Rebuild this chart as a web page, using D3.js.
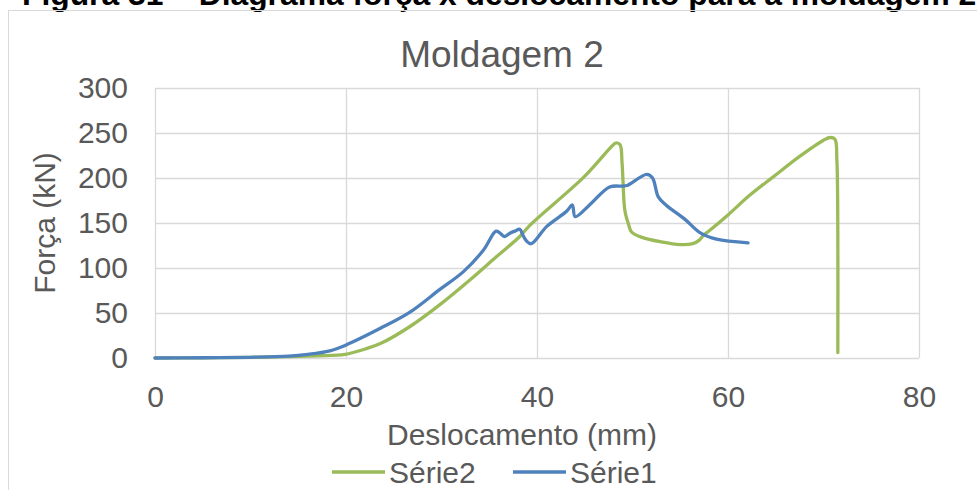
<!DOCTYPE html>
<html>
<head>
<meta charset="utf-8">
<script src="https://cdn.jsdelivr.net/npm/d3@7"></script>
<style>
  body { margin: 0; background: #fff; }
  text { font-family: "Liberation Sans", Arial, sans-serif; }
</style>
</head>
<body>
<div id="chart"></div>
<script>
// data
var xTicks = [0, 20, 40, 60, 80];
var yTicks = [0, 50, 100, 150, 200, 250, 300];

// Série2 (green)
var serie2X = [0, 5, 10, 14, 17, 19.9, 22, 23.6, 26.7, 29.8, 33, 35.8, 38.2, 39.3, 44.9, 48.0, 48.3, 48.7, 48.9, 49.0, 49.2, 49.6, 49.9, 51, 53, 55, 56.3, 57.0, 57.4, 58.1, 60, 62.3, 64.7, 67.5, 70.0, 70.7, 71.2, 71.4, 71.5, 71.5];
var serie2Y = [0, 0.2, 0.7, 1.5, 2.5, 4, 10, 16, 35, 59, 87, 113, 135, 148, 201, 237, 239, 237, 218, 198, 164, 148, 140, 134, 129, 126, 127, 131, 136, 142, 159, 181, 201, 224, 242, 245, 243, 220, 139, 6];

// Série1 (blue)
var serie1X = [0, 5, 10, 14, 16, 18.3, 19.9, 23.6, 26.7, 29.8, 32.3, 34.4, 35.7, 36.1, 36.6, 37.2, 37.7, 38.2, 38.5, 38.9, 39.4, 41, 43.1, 43.7, 44, 45.5, 47.6, 49, 49.5, 51.5, 52.1, 52.7, 53.5, 55.5, 57.1, 58.8, 62.1];
var serie1Y = [0, 0.3, 0.8, 2, 4, 8, 14, 33, 51, 76, 96, 120, 141, 139, 135, 139, 141, 143, 137, 130, 127, 146, 163, 170, 157, 170, 190, 191, 192, 204, 200, 179, 170, 154, 139, 132, 128];

var seriesNames = ["Série2", "Série1"];
var seriesColors = ["#9BBB59", "#4F81BD"];

var W = 977, H = 490;
var margin = {top: 88, right: 58, bottom: 132, left: 155},
    width = W - margin.left - margin.right,
    height = H - margin.top - margin.bottom;

var root = d3.select("#chart").append("svg")
    .attr("width", W)
    .attr("height", H);

// figure caption, cut off at the top as in the source
root.append("text")
    .attr("x", 22)
    .attr("y", 5)
    .style("font-size", "31.8px")
    .style("font-weight", "bold")
    .attr("fill", "#000")
    .text("Figura 31 – Diagrama força x deslocamento para a moldagem 2");

// chart frame
root.append("rect")
    .attr("x", 8.5)
    .attr("y", 10.5)
    .attr("width", 1000)
    .attr("height", 600)
    .attr("fill", "none")
    .attr("stroke", "#d9d9d9");

var svg = root.append("g")
    .attr("transform", "translate(" + margin.left + "," + margin.top + ")");

var x = d3.scaleLinear().domain([0, 80]).range([0, width]);
var y = d3.scaleLinear().domain([0, 300]).range([height, 0]);

// gridlines
svg.append("g")
    .attr("transform", "translate(0," + height + ")")
    .call(d3.axisBottom(x).tickValues(xTicks).tickSize(-height).tickFormat(""))
    .call(function(g) { g.select(".domain").remove(); });
svg.append("g")
    .call(d3.axisLeft(y).tickValues(yTicks).tickSize(-width).tickFormat(""))
    .call(function(g) { g.select(".domain").remove(); });
svg.selectAll(".tick line").attr("stroke", "#d9d9d9").attr("stroke-width", 1.3);

// tick labels
svg.append("g")
    .attr("transform", "translate(0," + height + ")")
    .call(d3.axisBottom(x).tickValues(xTicks).tickSize(0).tickPadding(28))
    .call(function(g) {
        g.select(".domain").remove();
        g.selectAll("text").style("font-size", "30px").attr("fill", "#595959")
            .style("font-family", "Liberation Sans, Arial, sans-serif");
    });
svg.append("g")
    .call(d3.axisLeft(y).tickValues(yTicks).tickSize(0).tickPadding(27))
    .call(function(g) {
        g.select(".domain").remove();
        g.selectAll("text").style("font-size", "30px").attr("fill", "#595959")
            .style("font-family", "Liberation Sans, Arial, sans-serif");
    });

// lines
var line = d3.line()
    .curve(d3.curveCatmullRom.alpha(0.5))
    .x(function(d) { return x(d[0]); })
    .y(function(d) { return y(d[1]); });

var series = [
    d3.zip(serie2X, serie2Y),
    d3.zip(serie1X, serie1Y)
];

series.forEach(function(s, i) {
    svg.append("path")
        .datum(s)
        .attr("fill", "none")
        .attr("stroke", seriesColors[i])
        .attr("stroke-width", 3.3)
        .attr("stroke-linejoin", "round")
        .attr("stroke-linecap", "round")
        .attr("d", line);
});

// title
root.append("text")
    .attr("x", 502)
    .attr("y", 67)
    .attr("text-anchor", "middle")
    .style("font-size", "37px")
    .attr("fill", "#595959")
    .text("Moldagem 2");

// axis titles
root.append("text")
    .attr("x", 522)
    .attr("y", 445)
    .attr("text-anchor", "middle")
    .style("font-size", "30px")
    .attr("fill", "#595959")
    .text("Deslocamento (mm)");

root.append("text")
    .attr("transform", "translate(55,223) rotate(-90)")
    .attr("text-anchor", "middle")
    .style("font-size", "30px")
    .attr("fill", "#595959")
    .text("Força (kN)");

// legend
var legendX = [332, 513];
seriesNames.forEach(function(name, i) {
    var lg = root.append("g").attr("transform", "translate(" + legendX[i] + ",472)");
    lg.append("line")
        .attr("x1", 0).attr("x2", 53)
        .attr("y1", 0).attr("y2", 0)
        .attr("stroke", seriesColors[i])
        .attr("stroke-width", 3.3);
    lg.append("text")
        .attr("x", 57)
        .attr("y", 11)
        .style("font-size", "30px")
        .attr("fill", "#595959")
        .text(name);
});
</script>
</body>
</html>
